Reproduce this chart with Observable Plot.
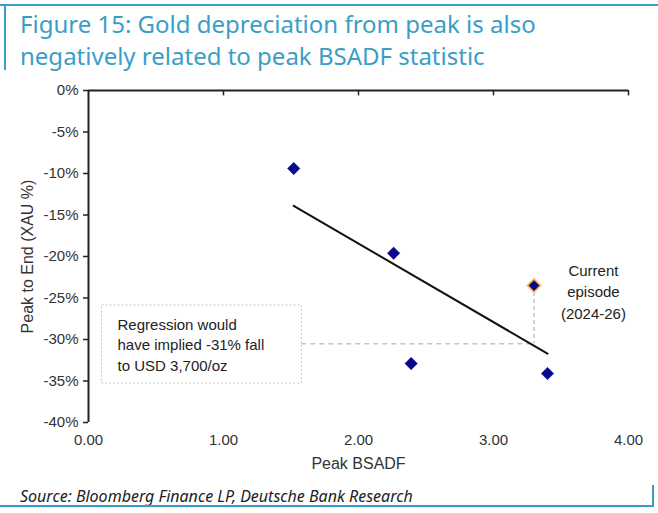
<!DOCTYPE html>
<html>
<head>
<meta charset="utf-8">
<script src="https://cdn.jsdelivr.net/npm/d3@7"></script>
<script src="https://cdn.jsdelivr.net/npm/@observablehq/plot@0.6"></script>
<style>
  html, body { margin: 0; padding: 0; background: #fff; }
  #wrap { position: relative; width: 658px; height: 513px; overflow: hidden; }
  .bar { position: absolute; background: #3a9ec7; }
  #title { position: absolute; left: 20px; top: 8px; font-family: "Noto Sans", sans-serif; font-size: 24px; line-height: 32px; color: #3a9ec7; white-space: nowrap; }
  #chart { position: absolute; left: 0; top: 80px; }
  #chart svg g[aria-label*="tick label"] text { font-size: 15px !important; }
  #chart svg g[aria-label="x-axis label"] text, #chart svg g[aria-label="y-axis label"] text { font-size: 16px !important; }
  #source { position: absolute; left: 20px; top: 485px; font-family: "Noto Sans", sans-serif; font-style: italic; font-size: 16px; color: #222; white-space: nowrap; }
</style>
</head>
<body>
<div id="wrap">
  <div class="bar" style="left:0;top:4px;width:658px;height:2px"></div>
  <div class="bar" style="left:4px;top:6px;width:2px;height:64px"></div>
  <div id="title">Figure 15: Gold depreciation from peak is also<br>negatively related to peak BSADF statistic</div>
  <div id="chart"></div>
  <div id="source">Source: Bloomberg Finance LP, Deutsche Bank Research</div>
  <div class="bar" style="left:0;top:505px;width:654px;height:2px"></div>
  <div class="bar" style="left:652px;top:485px;width:2px;height:22px"></div>
</div>
<script>
// ---- data ----
const xTicks = [0, 1, 2, 3, 4];
const yTicks = [0, -5, -10, -15, -20, -25, -30, -35, -40];
const peakBSADF = [1.52, 2.26, 2.39, 3.40];
const peakToEnd = [-9.4, -19.6, -32.9, -34.1];
const currentBSADF = [3.30];
const currentPeakToEnd = [-23.5];
const trendBSADF = [1.52, 3.40];
const trendPeakToEnd = [-13.9, -31.7];
const impliedPeakToEnd = -30.5;
const regressionNote = "Regression would\nhave implied -31% fall\nto USD 3,700/oz";
const currentNote = "Current\nepisode\n(2024-26)";

// tables built from the arrays
const episodes = peakBSADF.map((x, i) => ({x, y: peakToEnd[i]}));
const current = currentBSADF.map((x, i) => ({x, y: currentPeakToEnd[i]}));
const trend = trendBSADF.map((x, i) => ({x, y: trendPeakToEnd[i]}));
const noteBox = [{x1: 0.10, x2: 1.58, y1: -25.9, y2: -35.3}];
const hGuide = [{x1: 1.58, x2: currentBSADF[0], y: impliedPeakToEnd}];
const vGuide = [{x: currentBSADF[0], y1: currentPeakToEnd[0], y2: impliedPeakToEnd}];

const navy = "#08088c";
const grey = "#c4c4c4";

const chart = Plot.plot({
  width: 658,
  height: 400,
  marginTop: 10,
  marginBottom: 58,
  marginLeft: 88,
  marginRight: 30,
  style: {fontFamily: "'Liberation Sans', Arial, sans-serif", fontSize: "15px", color: "#333", background: "#fff"},
  x: {domain: [0, 4], ticks: xTicks, tickFormat: d => d.toFixed(2)},
  y: {domain: [-40, 0], ticks: yTicks, tickFormat: d => d + "%"},
  marks: [
    Plot.axisX({ticks: xTicks, tickFormat: d => d.toFixed(2), tickSize: 0, tickPadding: 12, fontSize: 15, label: null}),
    Plot.axisX({ticks: [], label: "Peak BSADF", labelAnchor: "center", labelArrow: "none", labelOffset: 46, fontSize: 16}),
    Plot.axisY({ticks: yTicks, tickFormat: d => d + "%", tickSize: 5, tickPadding: 5, fontSize: 15, label: null, stroke: "#222", strokeWidth: 1.5}),
    Plot.axisY({ticks: [], label: "Peak to End (XAU %)", labelAnchor: "center", labelArrow: "none", labelOffset: 67, fontSize: 16}),
    Plot.ruleY([0], {stroke: "#222", strokeWidth: 2}),
    Plot.ruleX([0], {stroke: "#222", strokeWidth: 2}),
    Plot.ruleX(xTicks.slice(1), {x: d => d, y1: 0, y2: -0.65, stroke: "#222", strokeWidth: 1.5}),
    Plot.rect(noteBox, {x1: "x1", x2: "x2", y1: "y1", y2: "y2", fill: "none", stroke: grey, strokeDasharray: "2,2"}),
    Plot.ruleY(hGuide, {x1: "x1", x2: "x2", y: "y", stroke: grey, strokeWidth: 1.5, strokeDasharray: "5,4"}),
    Plot.ruleX(vGuide, {x: "x", y1: "y1", y2: "y2", stroke: grey, strokeWidth: 1.5, strokeDasharray: "4,3"}),
    Plot.line(trend, {x: "x", y: "y", stroke: "#111", strokeWidth: 2}),
    Plot.dot(episodes, {x: "x", y: "y", symbol: "diamond2", r: 5.6, fill: navy, stroke: navy, strokeWidth: 0.5}),
    Plot.dot(current, {x: "x", y: "y", symbol: "diamond2", r: 6.6, fill: "#f7b440", stroke: "#f9c870", strokeWidth: 1.5, strokeOpacity: 0.5}),
    Plot.dot(current, {x: "x", y: "y", symbol: "diamond2", r: 4.6, fill: navy, stroke: navy, strokeWidth: 0.5}),
    Plot.text([regressionNote], {x: 0.215, y: impliedPeakToEnd, text: d => d, textAnchor: "start", lineHeight: 1.36, fill: "#222", fontSize: 15}),
    Plot.text([currentNote], {x: 3.74, y: -24.1, text: d => d, textAnchor: "middle", lineHeight: 1.42, fill: "#222", fontSize: 15})
  ]
});
document.getElementById("chart").appendChild(chart);
</script>
</body>
</html>
